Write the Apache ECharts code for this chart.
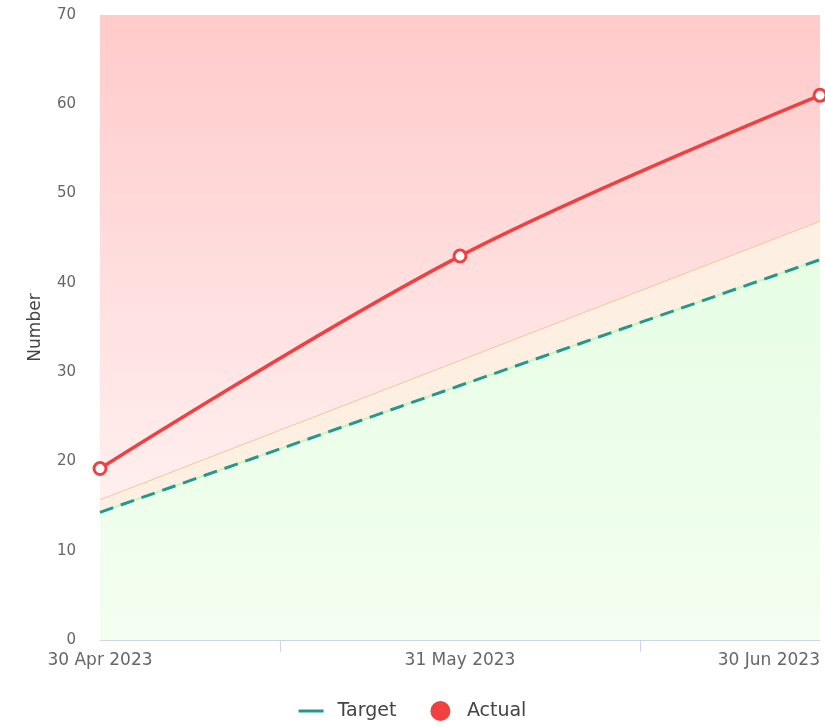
<!DOCTYPE html>
<html>
<head>
<meta charset="utf-8">
<script src="https://cdn.jsdelivr.net/npm/echarts@6/dist/echarts.min.js"></script>
<style>html,body{margin:0;padding:0;background:#fff}#c{width:825px;height:725px}</style>
</head>
<body>
<div id="c"></div>
<script>
const categories = ['30 Apr 2023', '31 May 2023', '30 Jun 2023'];
const targetValues = [14.3, 28.5, 42.6];
const toleranceValues = [15.7, 31.3, 46.9];
const actualValues = [19.2, 43.0, 61.0];
const yTicks = [0, 10, 20, 30, 40, 50, 60, 70];
const yMax = 70;

const pairs = arr => arr.map((v, i) => [i, v]);
const ceilingValues = categories.map(() => yMax);

const chart = echarts.init(document.getElementById('c'));
const font = '"DejaVu Sans", Verdana, sans-serif';
chart.setOption({
  animation: false,
  grid: { left: 100, right: 5, top: 15, bottom: 85 },
  legend: {
    bottom: -1,
    left: 'center',
    itemWidth: 25,
    itemHeight: 20,
    itemGap: 34,
    textStyle: { fontFamily: font, fontSize: 19, color: '#444', padding: [0, 0, 0, 9] },
    data: [
      { name: 'Target', icon: 'path://M0,0L25,0L25,3L0,3Z' },
      { name: 'Actual', icon: 'circle', itemStyle: { color: '#f04040', borderWidth: 0 } }
    ]
  },
  xAxis: {
    type: 'value',
    min: 0, max: categories.length - 1, interval: 0.5,
    axisLine: { show: true, lineStyle: { color: '#ccd6eb' } },
    axisTick: { show: true, length: 12, lineStyle: { color: '#ccd6eb' }, customValues: [0.5, 1.5] },
    splitLine: { show: false },
    axisLabel: {
      customValues: categories.map((c, i) => i),
      formatter: v => categories[Math.round(v)] || '',
      alignMaxLabel: 'right',
      margin: 12,
      fontFamily: font, fontSize: 17, color: '#666'
    }
  },
  yAxis: {
    type: 'value',
    min: yTicks[0], max: yTicks[yTicks.length - 1], interval: 10,
    name: 'Number', nameLocation: 'middle', nameGap: 56,
    nameTextStyle: { fontFamily: font, fontSize: 17, color: '#444' },
    axisLine: { show: true, lineStyle: { color: '#ccd6eb' } },
    axisTick: { show: false },
    splitLine: { lineStyle: { color: '#e6e6e6' } },
    axisLabel: { margin: 24, fontFamily: font, fontSize: 15, color: '#666' }
  },
  series: [
    {
      name: 'zoneRed', type: 'line', data: pairs(ceilingValues), symbol: 'none', silent: true, z: 1,
      lineStyle: { width: 0 },
      areaStyle: {
        opacity: 1,
        color: new echarts.graphic.LinearGradient(0, 0, 0, 1, [
          { offset: 0, color: '#ffcaca' },
          { offset: 0.75, color: '#ffeeee' },
          { offset: 1, color: '#fff5f5' }
        ])
      }
    },
    {
      name: 'zoneOrange', type: 'line', data: pairs(toleranceValues), symbol: 'none', silent: true, z: 2,
      lineStyle: { width: 1, color: '#f6c594' },
      areaStyle: { opacity: 1, color: '#fdf0e3' }
    },
    {
      name: 'zoneGreen', type: 'line', data: pairs(targetValues), symbol: 'none', silent: true, z: 3,
      lineStyle: { width: 2, color: '#c8f5c0' },
      areaStyle: {
        opacity: 1,
        color: new echarts.graphic.LinearGradient(0, 0, 0, 1, [
          { offset: 0, color: '#e6fde4' },
          { offset: 1, color: '#f3fff0' }
        ])
      }
    },
    {
      name: 'Target', type: 'line', data: pairs(targetValues), symbol: 'none', z: 4,
      itemStyle: { color: '#22998c' },
      lineStyle: { width: 3, color: '#22998c', type: [14, 8] }
    },
    {
      name: 'Actual', type: 'line', data: pairs(actualValues), smooth: 0.35, z: 5,
      symbol: 'circle', symbolSize: 12,
      itemStyle: { color: '#ffffff', borderColor: '#f04040', borderWidth: 3 },
      lineStyle: { width: 3.5, color: '#f04040' }
    }
  ]
});
</script>
</body>
</html>
